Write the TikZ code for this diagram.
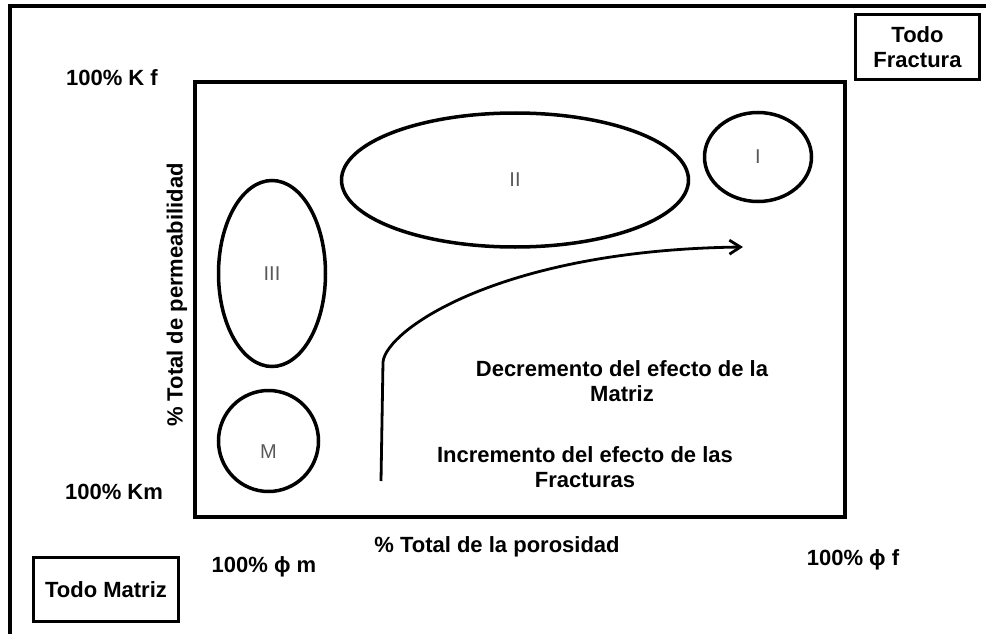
\documentclass[tikz,border=0pt]{standalone}
\usepackage{fontspec}
\setmainfont{Liberation Sans}
\usepackage{tikz}
\usetikzlibrary{arrows.meta, positioning, calc, shapes.geometric}
\newcommand{\phisym}{\char"03D5}
\tikzset{>={Straight Barb[length=11pt,width=14pt]},
	lbl/.style={font=\fontsize{22}{25}\selectfont\bfseries, inner sep=0pt, align=center},
	zone/.style={draw, ellipse, line width=3.5pt, inner sep=0pt},
	numeral/.style={text=black!65, font=\fontsize{20}{22}\selectfont, inner sep=0pt},
	corner/.style={draw, line width=3.5pt, rectangle, inner sep=0pt, align=center, font=\fontsize{22}{25}\selectfont\bfseries}}

\begin{document}
\begin{tikzpicture}[x=1pt, y=-1pt]

			\useasboundingbox (0,0) rectangle (986,634);

			% frame of the page
			\draw [line width=3.5pt] (986,6) -- (10,6) -- (10,634);

			% chart area
			\draw [line width=4pt] (195,82) rectangle (845,517);

			\node [lbl] (kf) at (112,78) {100\% K f};
			\node [lbl] (km) at (114,492) {100\% Km};
			\node [lbl] (phim) at (264,567) {100\% \phisym\ m};
			\node [lbl] (phif) at (853,560) {100\% \phisym\ f};
			\node [lbl] (xlab) at (497,547) {\% Total de la porosidad};
			\node [lbl, rotate=90] (ylab) at (177,295) {\% Total de permeabilidad};

			\node [corner, minimum width=145pt, minimum height=64pt] (matriz) at (106,589.5) {Todo Matriz};
			\node [corner, minimum width=124pt, minimum height=65pt] (fractura) at (917.5,47) {Todo\\Fractura};

			% reservoir types
			\node [zone, minimum width=347pt, minimum height=134pt] (II) at (515,180) {};
			\node [zone, minimum width=107pt, minimum height=89pt] (I) at (758,157) {};
			\node [zone, minimum width=107pt, minimum height=186pt] (III) at (272,273.5) {};
			\node [zone, minimum width=100pt, minimum height=101pt] (M) at (268.5,441) {};
			\node [numeral] (IIt) at (II) {II};
			\node [numeral] (It) at (I) {I};
			\node [numeral] (IIIt) at (III) {III};
			\node [numeral] (Mt) at ($(M)+(0,11)$) {M};

			\node [lbl] (decr) at (622,381) {Decremento del efecto de la\\Matriz};
			\node [lbl] (incr) at (585,467) {Incremento del efecto de las\\Fracturas};

			\coordinate (start) at (381,481);
			\coordinate (tip) at (743,247);
			\draw [line width=2.8pt, ->] (start) -- (383,362) .. controls (386,330) and (500,250) .. (tip);

\end{tikzpicture}
\end{document}
